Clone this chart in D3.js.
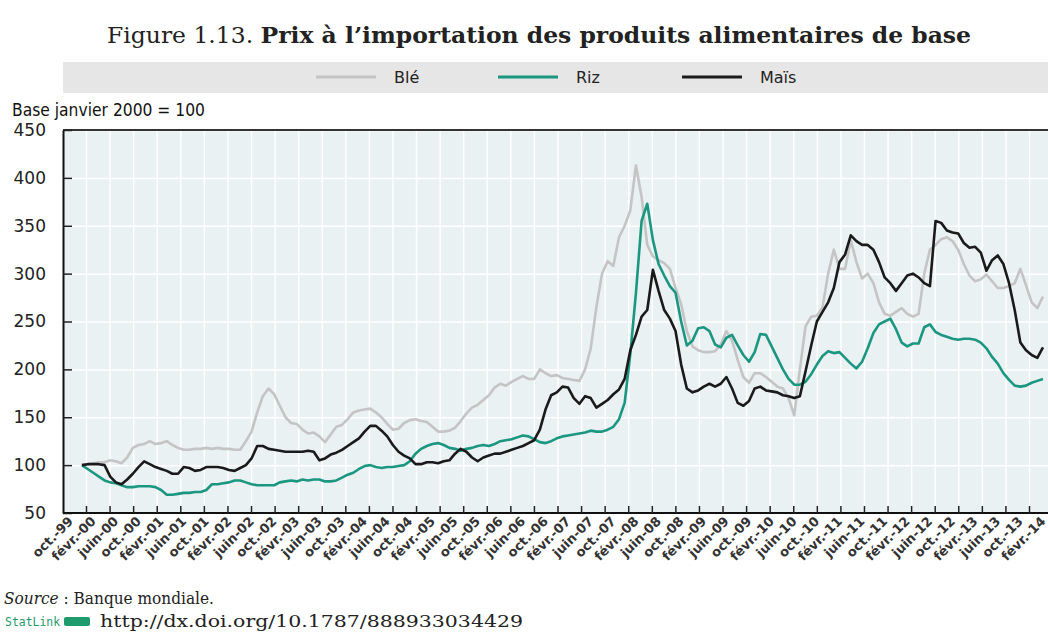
<!DOCTYPE html>
<html>
<head>
<meta charset="utf-8">
<script src="https://cdn.jsdelivr.net/npm/d3@7"></script>
<style>
  body { margin: 0; background: #fff; }
  .sans { font-family: "DejaVu Sans", "Liberation Sans", sans-serif; }
  .serif { font-family: "DejaVu Serif", "Liberation Serif", serif; }
</style>
</head>
<body>
<div id="chart"></div>
<script>
// months are counted from oct.-99 (index 0); series start in janv.-00 (index 3)
var firstMonth = 3;

var ble = [100, 101, 102, 103, 103, 105, 104, 102, 108, 118,
  121, 122, 125, 122, 123, 125, 121, 118, 116, 116,
  117, 117, 118, 117, 118, 117, 117, 116, 116, 125,
  135, 155, 172, 180, 174, 162, 150, 144, 143, 137,
  133, 134, 130, 124, 132, 140, 142, 148, 155, 157,
  158, 159, 155, 150, 143, 137, 138, 144, 147, 148,
  146, 145, 140, 135, 135, 136, 139, 146, 154, 160,
  163, 168, 173, 181, 185, 183, 187, 190, 193, 190,
  190, 200, 196, 193, 194, 191, 190, 189, 188, 200,
  222, 265, 300, 313, 308, 338, 350, 366, 413, 380,
  330, 318, 314, 311, 305, 285, 268, 240, 224, 220,
  218, 218, 219, 226, 240, 230, 210, 192, 186, 196,
  196, 192, 187, 182, 180, 170, 152, 200, 245, 255,
  256, 265, 300, 325, 305, 305, 335, 312, 295, 300,
  290, 270, 258, 256, 260, 264, 258, 255, 258, 300,
  325, 330, 336, 338, 334, 325, 310, 298, 292, 294,
  299, 292, 285, 285, 287, 290, 305, 288, 270, 264,
  276];

var riz = [100, 96, 92, 88, 84, 82, 81, 79, 77, 77,
  78, 78, 78, 77, 74, 69, 69, 70, 71, 71,
  72, 72, 74, 80, 80, 81, 82, 84, 84, 82,
  80, 79, 79, 79, 79, 82, 83, 84, 83, 85,
  84, 85, 85, 83, 83, 84, 87, 90, 92, 96,
  99, 100, 98, 97, 98, 98, 99, 100, 104, 112,
  117, 120, 122, 123, 121, 118, 117, 115, 117, 118,
  120, 121, 120, 122, 125, 126, 127, 129, 131, 130,
  127, 124, 123, 125, 128, 130, 131, 132, 133, 134,
  136, 135, 135, 137, 140, 148, 165, 216, 280, 355,
  373, 335, 310, 298, 287, 280, 250, 225, 230, 243,
  244, 240, 226, 223, 233, 236, 225, 215, 208, 218,
  237, 236, 224, 212, 200, 190, 184, 184, 187, 195,
  205, 214, 219, 217, 218, 212, 206, 201, 208, 222,
  238, 247, 250, 253, 242, 228, 224, 227, 227, 244,
  247, 239, 236, 234, 232, 231, 232, 232, 231, 228,
  222, 213, 206, 196, 189, 183, 182, 183, 186, 188,
  190];

var mais = [100, 101, 101, 101, 100, 88, 82, 80, 85, 91,
  98, 104, 101, 98, 96, 94, 91, 91, 98, 97,
  94, 95, 98, 98, 98, 97, 95, 94, 97, 100,
  107, 120, 120, 117, 116, 115, 114, 114, 114, 114,
  115, 114, 105, 107, 111, 113, 116, 120, 124, 128,
  135, 141, 141, 136, 130, 121, 114, 110, 107, 101,
  101, 103, 103, 102, 104, 105, 112, 117, 114, 108,
  104, 108, 110, 112, 112, 114, 116, 118, 120, 123,
  126, 137, 158, 173, 176, 182, 181, 170, 164, 172,
  170, 160, 164, 168, 174, 179, 190, 220, 236, 255,
  262, 304, 282, 262, 253, 240, 205, 180, 176, 178,
  182, 185, 182, 185, 192, 180, 165, 162, 167, 180,
  182, 178, 177, 176, 173, 172, 170, 172, 198, 225,
  250, 260, 270, 285, 312, 320, 340, 334, 330, 330,
  325, 312, 296, 290, 282, 290, 298, 300, 296, 290,
  287, 355, 353, 345, 343, 342, 332, 327, 328, 322,
  303, 314, 319, 310, 290, 262, 228, 220, 215, 212,
  223];

var tickLabels = ["oct.-99", "févr.-00", "juin-00", "oct.-00", "févr.-01", "juin-01", "oct.-01",
  "févr.-02", "juin-02", "oct.-02", "févr.-03", "juin-03", "oct.-03", "févr.-04", "juin-04",
  "oct.-04", "févr.-05", "juin-05", "oct.-05", "févr.-06", "juin-06", "oct.-06", "févr.-07",
  "juin-07", "oct.-07", "févr.-08", "juin-08", "oct.-08", "févr.-09", "juin-09", "oct.-09",
  "févr.-10", "juin-10", "oct.-10", "févr.-11", "juin-11", "oct.-11", "févr.-12", "juin-12",
  "oct.-12", "févr.-13", "juin-13", "oct.-13", "févr.-14"];

var yTicks = [50, 100, 150, 200, 250, 300, 350, 400, 450];

var seriesNames = ["Blé", "Riz", "Maïs"];
var seriesColors = ["#c4c4c4", "#1b9680", "#1a1a1a"];

var svgWidth = 1048;
var svgHeight = 632;

var plot = { left: 63, right: 1048, top: 130, bottom: 513 };

var svg = d3.select("#chart")
  .append("svg")
  .attr("width", svgWidth)
  .attr("height", svgHeight);

// title
var title = svg.append("text")
  .attr("class", "serif")
  .attr("x", 107)
  .attr("y", 43)
  .attr("font-size", 22)
  .attr("textLength", 864)
  .attr("lengthAdjust", "spacingAndGlyphs")
  .attr("fill", "#222");
title.append("tspan").text("Figure 1.13. ");
title.append("tspan").attr("font-weight", "bold").text("Prix à l’importation des produits alimentaires de base");

// legend band
svg.append("rect")
  .attr("x", plot.left)
  .attr("y", 62)
  .attr("width", plot.right - plot.left)
  .attr("height", 31)
  .attr("fill", "#e6e6e6");

var legendX = [316, 498, 682];
var legend = svg.selectAll(".legend")
  .data(seriesNames)
  .enter()
  .append("g")
  .attr("class", "legend")
  .attr("transform", (d, i) => `translate(${legendX[i]}, 77)`);
legend.append("line")
  .attr("x1", 0).attr("x2", 60)
  .attr("stroke", (d, i) => seriesColors[i])
  .attr("stroke-width", 3);
legend.append("text")
  .attr("class", "sans")
  .attr("x", 78)
  .attr("y", 6)
  .attr("font-size", 16)
  .attr("fill", "#222")
  .text(d => d);

svg.append("text")
  .attr("class", "sans")
  .attr("x", 12)
  .attr("y", 116)
  .attr("font-size", 17)
  .attr("textLength", 193)
  .attr("lengthAdjust", "spacingAndGlyphs")
  .attr("fill", "#111")
  .text("Base janvier 2000 = 100");

// scales
var yScale = d3.scaleLinear().domain([50, 450]).range([plot.bottom, plot.top]);
var xScale = d3.scaleLinear().domain([0, 172]).range([65, 65 + 5.653 * 172]);
// tick marks along the bottom do not fall on the label months
var tickScale = d3.scaleLinear().domain([0, 40]).range([86, 1029]);

// plot background
svg.append("rect")
  .attr("x", plot.left)
  .attr("y", plot.top)
  .attr("width", plot.right - plot.left)
  .attr("height", plot.bottom - plot.top)
  .attr("fill", "#e9f1f2");

// grid
svg.append("g")
  .attr("transform", `translate(0, ${plot.bottom})`)
  .call(d3.axisBottom(tickScale).tickValues(d3.range(41)).tickSize(-(plot.bottom - plot.top)).tickFormat(""))
  .call(g => g.select(".domain").remove())
  .call(g => g.selectAll("line").attr("stroke", "#fff").attr("stroke-width", 1.5));
svg.append("g")
  .attr("transform", `translate(${plot.left}, 0)`)
  .call(d3.axisLeft(yScale).tickValues(yTicks).tickSize(-(plot.right - plot.left)).tickFormat(""))
  .call(g => g.select(".domain").remove())
  .call(g => g.selectAll("line").attr("stroke", "#fff").attr("stroke-width", 1.5));

// lines
var lineGen = d3.line()
  .x((d, i) => xScale(firstMonth + i))
  .y(d => yScale(d));

[ble, riz, mais].forEach(function(values, k) {
  svg.append("path")
    .datum(values)
    .attr("fill", "none")
    .attr("stroke", seriesColors[k])
    .attr("stroke-width", 2.6)
    .attr("stroke-linejoin", "round")
    .attr("d", lineGen);
});

// frame
svg.append("line")
  .attr("x1", plot.left).attr("x2", plot.right)
  .attr("y1", plot.top).attr("y2", plot.top)
  .attr("stroke", "#333").attr("stroke-width", 2);

// y axis
var yAxis = svg.append("g")
  .attr("transform", `translate(${plot.left}, 0)`)
  .call(d3.axisLeft(yScale).tickValues(yTicks).tickSizeInner(-9).tickSizeOuter(0).tickPadding(17));
yAxis.select(".domain").attr("stroke", "#111").attr("stroke-width", 2);
yAxis.selectAll(".tick line").attr("stroke", "#222").attr("stroke-width", 1.5);
yAxis.selectAll(".tick text")
  .attr("class", "sans")
  .attr("font-size", 17)
  .attr("fill", "#222");

// x axis
var xAxis = svg.append("g")
  .attr("transform", `translate(0, ${plot.bottom})`)
  .call(d3.axisBottom(tickScale).tickValues(d3.range(41)).tickSizeInner(-7).tickSizeOuter(0).tickFormat(""));
xAxis.select(".domain").attr("stroke", "#111").attr("stroke-width", 2)
  .attr("d", `M${plot.left},0H${plot.right}`);
xAxis.selectAll(".tick line").attr("stroke", "#222").attr("stroke-width", 1.5);

svg.append("g")
  .selectAll("text")
  .data(tickLabels)
  .enter()
  .append("text")
  .attr("class", "sans")
  .attr("font-size", 13)
  .attr("font-weight", "bold")
  .attr("fill", "#333")
  .attr("text-anchor", "end")
  .attr("transform", (d, i) => `translate(${xScale(i * 4) + 9}, 522) rotate(-45)`)
  .text(d => d);

// notes
var src = svg.append("text")
  .attr("class", "serif")
  .attr("x", 4)
  .attr("y", 604)
  .attr("font-size", 16)
  .attr("textLength", 210)
  .attr("lengthAdjust", "spacingAndGlyphs")
  .attr("fill", "#222");
src.append("tspan").attr("font-style", "italic").text("Source");
src.append("tspan").text(" : Banque mondiale.");

svg.append("text")
  .attr("x", 5)
  .attr("y", 626)
  .attr("font-family", "DejaVu Sans Mono, monospace")
  .attr("font-size", 12)
  .attr("textLength", 55)
  .attr("lengthAdjust", "spacingAndGlyphs")
  .attr("fill", "#1f9a6c")
  .text("StatLink");
svg.append("rect")
  .attr("x", 64).attr("y", 617)
  .attr("width", 26).attr("height", 9)
  .attr("rx", 2)
  .attr("fill", "#1f9a6c");
svg.append("text")
  .attr("class", "serif")
  .attr("x", 100)
  .attr("y", 627)
  .attr("font-size", 16)
  .attr("textLength", 423)
  .attr("lengthAdjust", "spacingAndGlyphs")
  .attr("fill", "#222")
  .text("http://dx.doi.org/10.1787/888933034429");
</script>
</body>
</html>
